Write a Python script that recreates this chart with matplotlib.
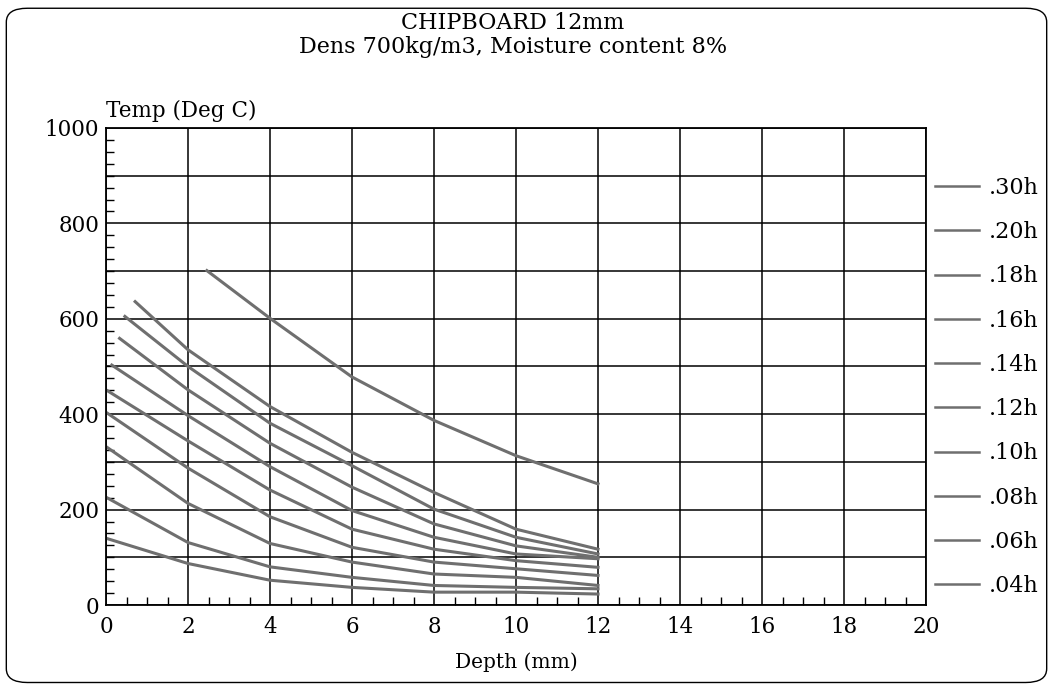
import matplotlib
matplotlib.use('Agg')
import matplotlib.pyplot as plt
from matplotlib.patches import FancyBboxPatch
from matplotlib.ticker import MultipleLocator

plt.rcParams['font.family'] = ['DejaVu Serif']

# tempos (h) e perfis de temperatura: profundidade (mm) -> temp (graus C)
labels = ['.30h', '.20h', '.18h', '.16h', '.14h', '.12h', '.10h', '.08h', '.06h', '.04h']
depth = [
    [2.46, 4, 6, 8, 10, 12],
    [0.71, 2, 4, 6, 8, 10, 12],
    [0.46, 2, 4, 6, 8, 10, 12],
    [0.33, 2, 4, 6, 8, 10, 12],
    [0.14, 2, 4, 6, 8, 10, 12],
    [0, 2, 4, 6, 8, 10, 12],
    [0, 2, 4, 6, 8, 10, 12],
    [0, 2, 4, 6, 8, 10, 12],
    [0, 2, 4, 6, 8, 10, 12],
    [0, 2, 4, 6, 8, 10, 12],
]
temp = [
    [701, 601, 478, 387, 313, 254],
    [636, 535, 416, 320, 236, 159, 117],
    [605, 500, 381, 292, 201, 142, 107],
    [559, 451, 339, 247, 170, 124, 100],
    [503, 397, 290, 198, 142, 107, 97],
    [451, 344, 241, 159, 117, 93, 79],
    [404, 287, 185, 121, 90, 76, 62],
    [332, 213, 129, 90, 65, 58, 41],
    [226, 131, 80, 58, 41, 37, 34],
    [140, 87, 52, 37, 27, 27, 23],
]

fig = plt.figure(figsize=(10.53, 6.88), dpi=100)
ax = fig.add_axes([0.1007, 0.1206, 0.7787, 0.6934])

for x, y, lab in zip(depth, temp, labels):
    ax.plot(x, y, color='#6f6f6f', lw=2.2, label=lab)

ax.set_xlim(0, 20)
ax.set_ylim(0, 1000)
ax.xaxis.set_major_locator(MultipleLocator(2))
ax.xaxis.set_minor_locator(MultipleLocator(0.5))
ax.yaxis.set_major_locator(MultipleLocator(200))
ax.yaxis.set_minor_locator(MultipleLocator(25))
# grade: verticais a cada 2 mm, horizontais a cada 100 graus
for gx in range(0, 21, 2):
    ax.axvline(gx, color='black', lw=1.1, zorder=0)
for gy in range(0, 1001, 100):
    ax.axhline(gy, color='black', lw=1.1, zorder=0)

ax.tick_params(which='major', length=0, labelsize=15.5, pad=5)
ax.tick_params(axis='x', which='major', pad=8)
ax.tick_params(which='minor', direction='in', length=6, width=1, top=False, right=False)
for s in ax.spines.values():
    s.set_linewidth(1.3)

ax.text(0.0, 1.012, 'Temp (Deg C)', transform=ax.transAxes, ha='left', va='bottom', fontsize=15.5)
ax.set_xlabel('Depth (mm)', fontsize=14.5, labelpad=10)

fig.text(0.487, 0.966, 'CHIPBOARD 12mm', ha='center', va='center', fontsize=16)
fig.text(0.487, 0.932, 'Dens 700kg/m3, Moisture content 8%', ha='center', va='center', fontsize=16)

leg = ax.legend(loc='center left', bbox_to_anchor=(1.0, 0.457), frameon=False, fontsize=16,
                handlelength=2.0, handletextpad=0.45, labelspacing=1.0, borderaxespad=0.0,
                borderpad=0.4)
for h in leg.get_lines():
    h.set_linewidth(1.8)

border = FancyBboxPatch((0.006, 0.008), 0.988, 0.98, boxstyle='round,pad=0,rounding_size=0.02',
                        transform=fig.transFigure, fill=False, edgecolor='black', lw=1)
fig.patches.append(border)

fig.savefig('out.png', dpi=100)
